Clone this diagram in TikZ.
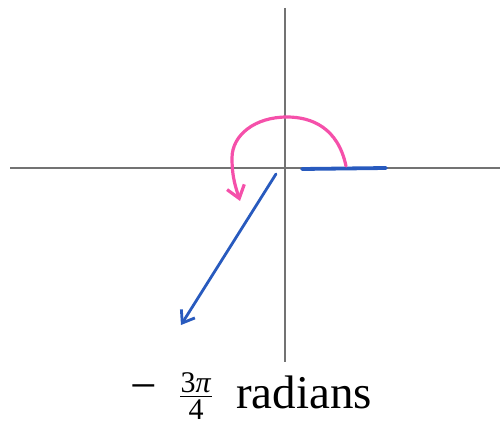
\documentclass[tikz,border=0pt]{standalone}
\usepackage{fontspec}
\setmainfont{Liberation Serif}
\usetikzlibrary{arrows.meta}
\definecolor{axisgray}{RGB}{115,115,115}
\definecolor{rayblue}{RGB}{40,90,190}
\definecolor{arcpink}{RGB}{245,80,170}
\tikzset{
  axisline/.style={draw=axisgray, line width=2.8pt},
  rayline/.style={draw=rayblue, line width=2.8pt, line cap=round},
  arcline/.style={draw=arcpink, line width=3.2pt, line cap=round},
  lbltext/.style={inner sep=0pt, font=\fontsize{47}{52}\selectfont},
  fractext/.style={inner sep=0pt, font=\fontsize{30}{33}\selectfont},
}
\begin{document}
\begin{tikzpicture}[x=1pt,y=-1pt]
\useasboundingbox (0,0) rectangle (504,425);
% axes
\coordinate (xl) at (10,168);
\coordinate (xr) at (500,168);
\coordinate (yt) at (285,8);
\coordinate (yb) at (285,362);
\draw[axisline] (xl) -- (xr);
\draw[axisline] (yt) -- (yb);
% initial side (blue along positive x axis)
\coordinate (is0) at (302,169);
\coordinate (is1) at (386,168);
\draw[rayline, line width=3.8pt] (is0) -- (is1);
% terminal ray
\coordinate (o) at (276,174);
\coordinate (tip) at (181,325);
\draw[rayline, -{Straight Barb[length=11pt,width=16pt,line width=2.8pt]}] (o) -- (tip);
% pink arc
\coordinate (a0) at (346,166);
\coordinate (a1) at (287,117);
\coordinate (a2) at (232,158);
\coordinate (a3) at (240,201);
\draw[arcline, -{Straight Barb[length=12pt,width=18pt,line width=3.2pt]}]
  (a0) .. controls (338,128) and (312,117) .. (a1)
       .. controls (255,117) and (232,135) .. (a2)
       .. controls (232,178) and (236,188) .. (a3);
% label
\node[lbltext, anchor=center] (minus) at (144,393) {−};
\node[fractext, anchor=base] (num) at (196,392) {3\textit{π}};
\node[fractext, anchor=base] (den) at (196,419) {4};
\coordinate (bl) at (180,396.5);
\coordinate (br) at (212,396.5);
\draw[line width=1.5pt] (bl) -- (br);
\node[lbltext, anchor=base west] (rad) at (236,408) {radians};
\end{tikzpicture}
\end{document}
